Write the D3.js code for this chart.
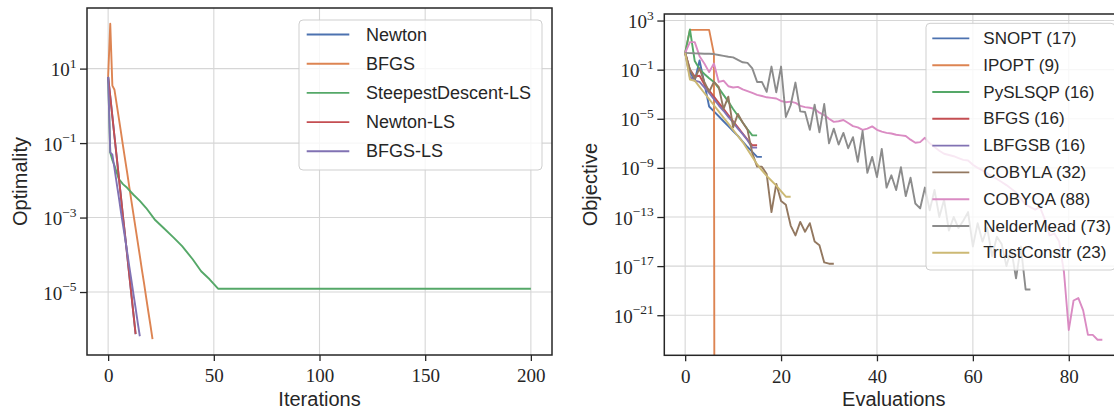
<!DOCTYPE html>
<html><head><meta charset="utf-8">
<script src="https://cdn.jsdelivr.net/npm/d3@7"></script>
<style>body{margin:0;background:#fff}svg{display:block}</style>
</head><body>
<svg id="chart" width="1114" height="409"></svg>
<script>
// ---------------- LEFT PANEL DATA (Optimality vs Iterations) ----------------
const leftLabels = ["Newton", "BFGS", "SteepestDescent-LS", "Newton-LS", "BFGS-LS"];
const newtonOpt   = [6.0, 1.8, 5.2e-1, 1.5e-1, 4.5e-2, 1.3e-2, 3.9e-3, 1.1e-3, 3.4e-4, 1.0e-4, 2.9e-5, 8.5e-6, 2.5e-6, 7.4e-7];
const bfgsOpt     = [6.0, 160, 3.5, 2.7, 1.14, 0.49, 0.21, 8.7e-2, 3.7e-2, 1.6e-2, 6.7e-3, 2.8e-3, 1.2e-3, 5.1e-4, 2.2e-4, 9.3e-5, 3.9e-5, 1.7e-5, 7.1e-6, 3.0e-6, 1.3e-6, 5.4e-7];
const sdIters     = [0, 1, 2, 3, 5, 7, 9, 12, 15, 18, 22, 26, 31, 35, 40, 44, 48, 52, 200];
const sdOpt       = [6.0, 5.6e-2, 3.5e-2, 2.5e-2, 1.1e-2, 7.9e-3, 6.3e-3, 4.1e-3, 2.8e-3, 1.8e-3, 8.9e-4, 5.4e-4, 2.9e-4, 1.7e-4, 7.6e-5, 3.6e-5, 2.2e-5, 1.23e-5, 1.23e-5];
const newtonLsOpt = [6.0, 1.8, 5.2e-1, 1.5e-1, 4.5e-2, 1.3e-2, 3.9e-3, 1.1e-3, 3.4e-4, 1.0e-4, 2.9e-5, 8.5e-6, 2.5e-6, 7.4e-7];
const bfgsLsOpt   = [6.0, 5.6e-2, 4.9e-2, 2.1e-2, 8.7e-3, 3.7e-3, 1.5e-3, 6.5e-4, 2.8e-4, 1.2e-4, 4.9e-5, 2.1e-5, 8.7e-6, 3.7e-6, 1.5e-6, 6.5e-7];
const leftXTicks  = [0, 50, 100, 150, 200];
const leftYTickExps = [1, -1, -3, -5];

// ---------------- RIGHT PANEL DATA (Objective vs Evaluations) ----------------
const rightLabels = ["SNOPT (17)", "IPOPT (9)", "PySLSQP (16)", "BFGS (16)", "LBFGSB (16)", "COBYLA (32)", "COBYQA (88)", "NelderMead (73)", "TrustConstr (23)"];
const snoptObj   = [2.34, 6.3e-2, 1.26e-2, 5.6e-1, 7.9e-3, 1.0e-4, 4.0e-5, 1.6e-5, 6.3e-6, 2.5e-6, 1.0e-6, 4.0e-7, 1.4e-7, 5.0e-8, 2.0e-8, 7.9e-9, 7.9e-9];
const ipoptObj   = [2.34, 174, 174, 174, 174, 174, 1.95, 0, 0];
const pyslsqpObj = [2.34, 186, 5.0e-1, 1.12e-1, 4.47e-2, 2.0e-2, 1.0e-2, 3.16e-3, 8.9e-4, 2.5e-4, 6.3e-5, 1.78e-5, 5.0e-6, 1.41e-6, 4.47e-7, 4.47e-7];
const bfgsObj    = [2.34, 1.0e-1, 2.8e-2, 3.16e-2, 6.3e-3, 2.0e-3, 6.3e-4, 2.0e-4, 6.3e-5, 2.0e-5, 6.3e-6, 2.0e-6, 6.3e-7, 2.0e-7, 6.9e-8, 6.9e-8];
const lbfgsbObj  = [2.34, 2.5e-2, 1.26e-2, 1.0e-2, 3.55e-3, 1.26e-3, 4.0e-4, 1.26e-4, 4.47e-5, 1.41e-5, 5.0e-6, 1.58e-6, 5.6e-7, 1.78e-7, 4.47e-8, 4.47e-8];
const cobylaObj  = [2.34, 1.0e-1, 1.78e-2, 1.26e-1, 1.0e-2, 1.58e-3, 1.0e-2, 3.98e-3, 6.3e-5, 6.3e-4, 2.0e-6, 2.5e-5, 5.0e-6, 1.26e-6, 1.58e-8, 1.26e-9,
                    1.26e-9, 3.16e-10, 2.5e-13, 5.0e-11, 2.0e-12, 1.0e-12, 2.0e-14, 3.16e-15, 3.98e-14, 6.3e-15, 3.16e-14, 1.0e-15, 5.0e-16, 2.0e-17, 1.58e-17, 1.58e-17];
const cobyqaObj  = [2.34, 17.4, 17.4, 1.26, 0.316, 6.3e-2, 0.316, 1.0e-2, 1.26e-2, 4.47e-3, 3.55e-3, 3.98e-3, 2.5e-3, 1.78e-3, 1.26e-3, 8.9e-4,
                    7.1e-4, 5.6e-4, 5.0e-4, 4.47e-4, 2.82e-4, 2.24e-4, 2.5e-4, 2.0e-4, 1.12e-4, 8.9e-5, 7.9e-5, 6.3e-5, 3.16e-5, 2.0e-5, 1.0e-5,
                    5.6e-6, 6.3e-6, 7.9e-6, 4.47e-6, 2.5e-6, 2.0e-6, 1.26e-6, 1.58e-6, 2.4e-6, 1.26e-6, 8.9e-7, 7.1e-7, 6.3e-7, 5.0e-7, 4.47e-7,
                    3.98e-7, 2.0e-7, 1.12e-7, 1.26e-7, 2.82e-7, 1.0e-7, 5.0e-8, 2.5e-8, 1.41e-8, 1.12e-8, 8.9e-9, 6.3e-9, 4.47e-9, 3.98e-9, 1.78e-9,
                    1.0e-9, 6.3e-10, 3.55e-10, 2.0e-10, 1.26e-10, 7.1e-11, 3.98e-11, 2.0e-11, 1.0e-11, 3.16e-12, 1.0e-12, 6.3e-13, 3.98e-13, 6.3e-13,
                    6.3e-14, 3.16e-15, 4.47e-15, 1.0e-15, 3.16e-18, 6.3e-23, 1.58e-20, 2.5e-20, 2.5e-21, 2.5e-23, 2.5e-23, 1.0e-23, 1.0e-23];
const nelderObj  = [2.34, 2.24, 2.14, 2.09, 2.0, 1.95, 1.86, 1.58, 1.32, 1.12, 1.0, 0.63, 0.398, 0.355, 0.126, 1.0e-2, 1.0e-2, 1.58e-3, 0.178, 1.41e-3,
                    0.178, 1.41e-5, 1.26e-4, 8.9e-3, 3.98e-5, 3.55e-5, 1.26e-6, 1.41e-4, 7.9e-7, 1.58e-4, 1.0e-7, 1.58e-6, 7.9e-8, 7.1e-7, 3.98e-8,
                    3.16e-7, 3.16e-9, 1.0e-6, 3.98e-10, 7.9e-9, 1.78e-10, 3.55e-8, 2.5e-11, 2.5e-10, 1.58e-11, 1.12e-9, 5.0e-12, 1.58e-10, 1.26e-12,
                    5.0e-13, 2.5e-11, 3.55e-13, 1.58e-11, 1.0e-13, 2.5e-12, 7.9e-15, 1.0e-13, 1.26e-14, 5.0e-14, 2.5e-13, 3.98e-16, 3.16e-14, 1.0e-15,
                    1.26e-14, 6.3e-17, 2.5e-15, 6.3e-16, 1.0e-17, 2.5e-16, 1.0e-18, 3.98e-16, 1.26e-19, 1.26e-19];
const trustObj   = [2.34, 1.58e-2, 1.26e-2, 3.98e-3, 1.26e-3, 3.98e-4, 1.26e-4, 3.98e-5, 1.26e-5, 3.98e-6, 1.26e-6, 3.98e-7, 1.26e-7, 3.16e-8,
                    7.9e-9, 2.0e-9, 6.3e-10, 2.24e-10, 8.9e-11, 3.55e-11, 1.26e-11, 4.47e-12, 4.47e-12];
const rightXTicks = [0, 20, 40, 60, 80];
const rightYTickExps = [3, -1, -5, -9, -13, -17, -21];

const palette = ["#4C72B0", "#DD8452", "#55A868", "#C44E52", "#8172B3", "#937860", "#DA8BC3", "#8C8C8C", "#CCB974"];

// ---------------- build series ----------------
const idx = arr => arr.map((v, i) => ({x: i, y: v}));
const leftSeries = [
  idx(newtonOpt), idx(bfgsOpt), sdIters.map((x, i) => ({x, y: sdOpt[i]})), idx(newtonLsOpt), idx(bfgsLsOpt)
];
const rightSeries = [snoptObj, ipoptObj, pyslsqpObj, bfgsObj, lbfgsbObj, cobylaObj, cobyqaObj, nelderObj, trustObj].map(idx);

const SANS = "'Liberation Sans', Arial, sans-serif";
const SERIF = "'Liberation Serif', 'Times New Roman', serif";
const svg = d3.select("#chart");

function padLin(ext) { const r = ext[1] - ext[0]; return [ext[0] - 0.05 * r, ext[1] + 0.05 * r]; }
function padLog(ext) {
  const a = Math.log10(ext[0]), b = Math.log10(ext[1]), r = b - a;
  return [Math.pow(10, a - 0.05 * r), Math.pow(10, b + 0.05 * r)];
}

function panel(opts) {
  const {series, box, xTicks, yExps, labels, xLabel, yLabel, yLabelX, legend, id} = opts;
  const all = series.flat();
  const x = d3.scaleLinear().domain(padLin(d3.extent(all, d => d.x))).range([box.x0, box.x1]);
  const pos = all.filter(d => d.y > 0);
  const y = d3.scaleLog().domain(padLog(d3.extent(pos, d => d.y))).range([box.y1, box.y0]);
  const g = svg.append("g");

  // clip
  svg.append("defs").append("clipPath").attr("id", "clip" + id)
    .append("rect").attr("x", box.x0).attr("y", box.y0).attr("width", box.x1 - box.x0).attr("height", box.y1 - box.y0);

  // grid
  const yTickVals = yExps.map(e => Math.pow(10, e));
  g.append("g").selectAll("line").data(xTicks).join("line")
    .attr("x1", d => x(d)).attr("x2", d => x(d)).attr("y1", box.y0).attr("y2", box.y1)
    .attr("stroke", "#d6d6d6").attr("stroke-width", 1.1);
  g.append("g").selectAll("line").data(yTickVals).join("line")
    .attr("y1", d => y(d)).attr("y2", d => y(d)).attr("x1", box.x0).attr("x2", box.x1)
    .attr("stroke", "#d6d6d6").attr("stroke-width", 1.1);

  // lines
  const line = d3.line().x(d => x(d.x)).y(d => y(d.y > 0 ? d.y : 1e-300));
  g.append("g").attr("clip-path", `url(#clip${id})`).selectAll("path").data(series).join("path")
    .attr("d", line).attr("fill", "none")
    .attr("stroke", (d, i) => palette[i]).attr("stroke-width", 1.9)
    .attr("stroke-linejoin", "round");

  // x axis
  const xa = g.append("g").attr("transform", `translate(0,${box.y1})`)
    .call(d3.axisBottom(x).tickValues(xTicks).tickSize(6).tickPadding(8).tickFormat(d3.format("d")));
  xa.select(".domain").remove();
  xa.selectAll(".tick line").attr("stroke", "#262626").attr("stroke-width", 1.3);
  xa.selectAll(".tick text").attr("font-family", SERIF).attr("font-size", 19).attr("fill", "#262626");

  // y axis
  const ya = g.append("g").attr("transform", `translate(${box.x0},0)`)
    .call(d3.axisLeft(y).tickValues(yTickVals).tickSize(7).tickFormat(() => ""));
  ya.select(".domain").remove();
  ya.selectAll(".tick line").attr("stroke", "#262626").attr("stroke-width", 1.3);
  ya.selectAll(".tick text").remove();
  ya.selectAll(".tick").each(function(d, i) {
    const t = d3.select(this).append("text")
      .attr("x", -10.5).attr("y", 7).attr("text-anchor", "end")
      .attr("font-family", SERIF).attr("font-size", 19).attr("fill", "#262626");
    t.append("tspan").text("10");
    const e = yExps[i];
    t.append("tspan").attr("dy", -8.5).attr("font-size", 13.5).text(e < 0 ? "\u2212" + (-e) : String(e));
  });

  // spines
  g.append("rect").attr("x", box.x0).attr("y", box.y0).attr("width", box.x1 - box.x0).attr("height", box.y1 - box.y0)
    .attr("fill", "none").attr("stroke", "#262626").attr("stroke-width", 1.5);

  // axis labels
  g.append("text").attr("x", (box.x0 + box.x1) / 2).attr("y", 406).attr("text-anchor", "middle")
    .attr("font-family", SANS).attr("font-size", 20).attr("fill", "#262626").text(xLabel);
  g.append("text").attr("transform", `translate(${yLabelX},${(box.y0 + box.y1) / 2}) rotate(-90)`)
    .attr("text-anchor", "middle").attr("font-family", SANS).attr("font-size", 20).attr("fill", "#262626").text(yLabel);

  // legend
  const L = legend;
  const lg = g.append("g");
  lg.append("rect").attr("x", L.x0).attr("y", L.y0).attr("width", L.x1 - L.x0).attr("height", L.y1 - L.y0)
    .attr("rx", 4).attr("fill", "#fff").attr("fill-opacity", 0.8).attr("stroke", "#cfcfcf").attr("stroke-width", 1);
  const rows = lg.selectAll("g.row").data(labels).join("g").attr("class", "row")
    .attr("transform", (d, i) => `translate(0,${L.row0 + i * L.dy})`);
  rows.append("line").attr("x1", L.h0).attr("x2", L.h1).attr("y1", 0).attr("y2", 0)
    .attr("stroke", (d, i) => palette[i]).attr("stroke-width", 1.9);
  rows.append("text").attr("x", L.tx).attr("y", 0).attr("dominant-baseline", "central")
    .attr("font-family", SANS).attr("font-size", L.fs).attr("fill", "#262626").text(d => d);
}

panel({
  id: "L", series: leftSeries, box: {x0: 87, x1: 552, y0: 8, y1: 355},
  xTicks: leftXTicks, yExps: leftYTickExps, labels: leftLabels,
  xLabel: "Iterations", yLabel: "Optimality", yLabelX: 27,
  legend: {x0: 299, x1: 542, y0: 20, y1: 170, row0: 34.5, dy: 29.2, h0: 306.7, h1: 349.3, tx: 366, fs: 18}
});
panel({
  id: "R", series: rightSeries, box: {x0: 664.3, x1: 1123.2, y0: 14, y1: 355.3},
  xTicks: rightXTicks, yExps: rightYTickExps, labels: rightLabels,
  xLabel: "Evaluations", yLabel: "Objective", yLabelX: 597,
  legend: {x0: 926, x1: 1115, y0: 23.3, y1: 270, row0: 38.4, dy: 26.8, h0: 932.3, h1: 969.3, tx: 983.3, fs: 17}
});
</script>
</body></html>
